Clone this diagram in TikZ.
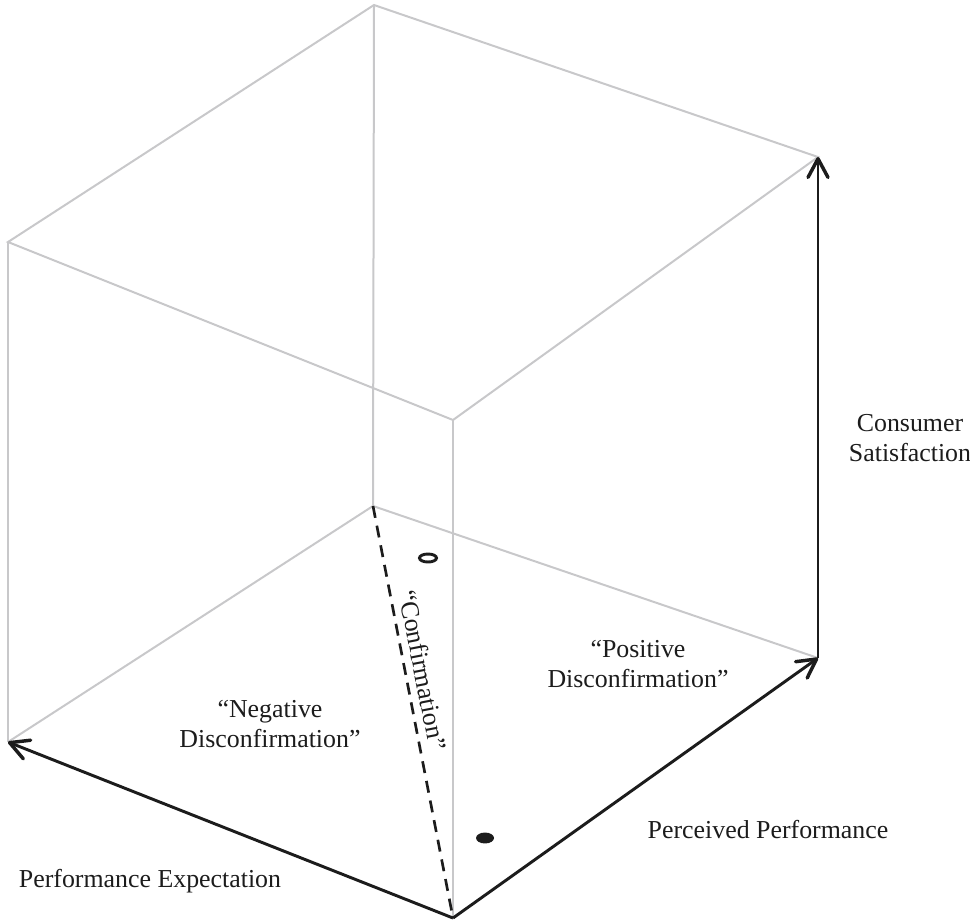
\documentclass[tikz,border=0pt]{standalone}
\usepackage{fontspec}
\setmainfont{Liberation Serif}
\usetikzlibrary{arrows.meta}
\definecolor{edgegray}{RGB}{200,200,202}
\definecolor{ink}{RGB}{28,28,28}
\begin{document}
\begin{tikzpicture}[x=0.75pt,y=-0.75pt,
  edge/.style={draw=edgegray,line width=1.5pt},
  axis/.style={draw=ink,line width=2.2pt,-{Straight Barb[length=14pt,width=15pt,line width=2.6pt,round]}},
  lbl/.style={font=\fontsize{19.4}{22.5}\selectfont,text=ink,align=center,inner sep=0pt},
  conf/.style={draw=ink,line width=2pt,dash pattern=on 9pt off 6pt}]
\useasboundingbox (0,0) rectangle (970,922);
\coordinate (TB) at (374,5);
\coordinate (TR) at (818,157);
\coordinate (TL) at (8,242);
\coordinate (TF) at (453,420);
\coordinate (BB) at (373,506);
\coordinate (BR) at (818,658);
\coordinate (BL) at (8,742);
\coordinate (BF) at (453,918);
% cube edges
\draw[edge] (TB) -- (TR) -- (TF) -- (TL) -- cycle;
\draw[edge] (TB) -- (BB);
\draw[edge] (TL) -- (BL);
\draw[edge] (TF) -- (BF);
\draw[edge] (BB) -- (BL);
\draw[edge] (BB) -- (BR);
% confirmation line
\draw[conf] (BB) -- (BF);
% axes
\draw[axis] (BF) -- (BL);
\draw[axis] (BF) -- (BR);
\draw[axis] (BR) -- (TR);
% markers
\draw[draw=ink,line width=2.2pt] (428,558) ellipse [x radius=6.4pt, y radius=3pt];
\fill[ink] (485,838) ellipse [x radius=6.75pt, y radius=4.1pt];
% labels
\node[lbl] (cs) at (910,438) {Consumer\\Satisfaction};
\node[lbl,anchor=base] (pp) at (768,838) {Perceived Performance};
\node[lbl,anchor=base] (pe) at (150,887) {Performance Expectation};
\node[lbl] (pd) at (638,664) {``Positive\\Disconfirmation''};
\node[lbl] (nd) at (270,724) {``Negative\\Disconfirmation''};
\node[lbl,rotate=-79] (cf) at (423,670) {``Confirmation''};
\end{tikzpicture}
\end{document}
